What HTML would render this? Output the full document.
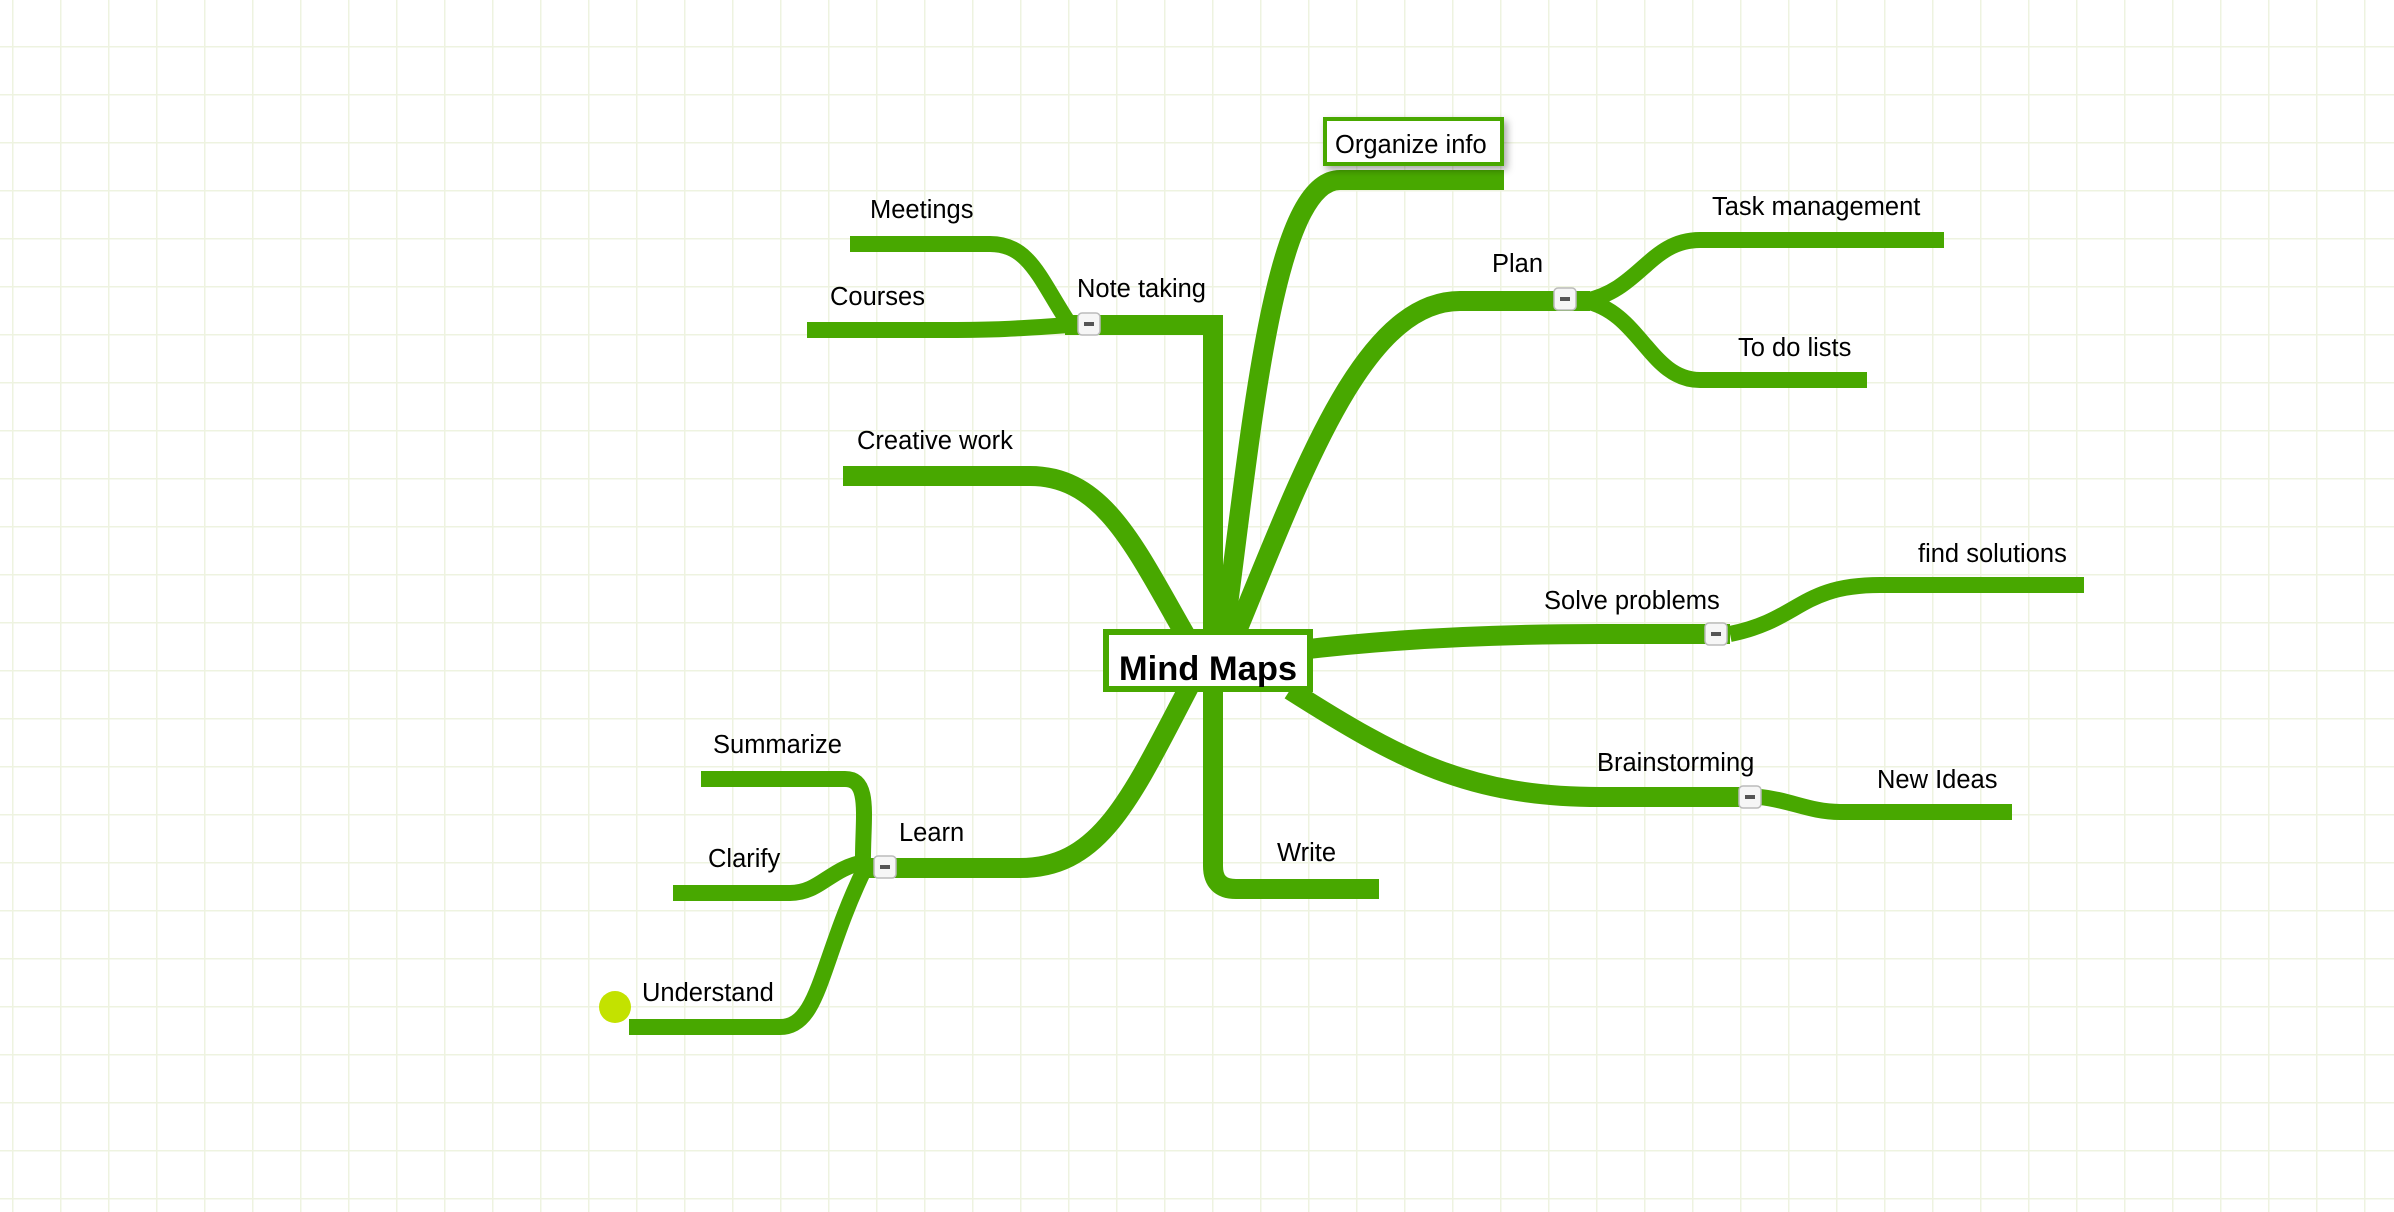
<!DOCTYPE html>
<html><head><meta charset="utf-8"><style>
html,body{margin:0;padding:0;background:#fff;}
svg{display:block;}
text{font-family:"Liberation Sans",Arial,sans-serif;font-size:25.5px;fill:#000;}
</style></head><body>
<svg width="2394" height="1212" viewBox="0 0 2394 1212">
<defs>
<pattern id="grid" x="12" y="46" width="48" height="48" patternUnits="userSpaceOnUse">
<path d="M0,0 V48 M0,0 H48" stroke="#eef3e0" stroke-width="3" fill="none"/>
</pattern>
<filter id="sh" x="-20%" y="-30%" width="140%" height="170%"><feDropShadow dx="3" dy="4" stdDeviation="4" flood-color="#000" flood-opacity="0.35"/></filter>
</defs>
<rect width="2394" height="1212" fill="url(#grid)"/>
<g fill="none" stroke="#48a800" stroke-linecap="butt" stroke-linejoin="miter">
<g stroke-width="20">
<path d="M1213,672 V325 H1065"/>
<path d="M1220,665 C1250,450 1270,180 1340,180 H1504"/>
<path d="M1225,660 C1300,480 1360,301 1460,301 H1590"/>
<path d="M1200,660 C1140,560 1110,476 1030,476 H843"/>
<path d="M1300,650 C1400,638 1500,634 1600,634 H1730"/>
<path d="M1290,690 C1400,760 1470,797 1600,797 H1760"/>
<path d="M1213,680 V866 Q1213,889 1236,889 H1379"/>
<path d="M1190,685 C1130,800 1100,868 1020,868 H863"/>
</g>
<g stroke-width="16">
<path d="M1070,325 C1040,280 1030,244 990,244 H850"/>
<path d="M1070,325 C1000,330 980,330 940,330 H807"/>
<path d="M1585,301 C1640,290 1650,240 1700,240 H1944"/>
<path d="M1585,301 C1640,312 1650,380 1700,380 H1867"/>
<path d="M1730,634 C1800,620 1800,585 1880,585 H2084"/>
<path d="M1760,797 C1790,800 1810,812 1840,812 H2012"/>
<path d="M863,868 C862,820 872,779 845,779 H701"/>
<path d="M865,862 C830,868 820,893 790,893 H673"/>
<path d="M865,868 C820,960 820,1027 780,1027 H629"/>
</g>
</g>
<circle cx="615" cy="1007" r="16" fill="#c3e200"/>
<g>
<g><rect x="1078" y="313" width="22" height="22" rx="4" fill="#f6f6f6" stroke="#bbb" stroke-width="1.5"/><rect x="1084" y="322" width="10" height="4" fill="#555"/></g>
<g><rect x="1554" y="288" width="22" height="22" rx="4" fill="#f6f6f6" stroke="#bbb" stroke-width="1.5"/><rect x="1560" y="297" width="10" height="4" fill="#555"/></g>
<g><rect x="1705" y="623" width="22" height="22" rx="4" fill="#f6f6f6" stroke="#bbb" stroke-width="1.5"/><rect x="1711" y="632" width="10" height="4" fill="#555"/></g>
<g><rect x="1739" y="786" width="22" height="22" rx="4" fill="#f6f6f6" stroke="#bbb" stroke-width="1.5"/><rect x="1745" y="795" width="10" height="4" fill="#555"/></g>
<g><rect x="874" y="856" width="22" height="22" rx="4" fill="#f6f6f6" stroke="#bbb" stroke-width="1.5"/><rect x="880" y="865" width="10" height="4" fill="#555"/></g>
</g>
<g>
<rect x="1106" y="632" width="204" height="57" fill="#fff" stroke="#48a800" stroke-width="6"/>
<text x="1208" y="680" text-anchor="middle" style="font-size:34.5px;font-weight:bold">Mind Maps</text>
</g>
<g>
<rect x="1325" y="119" width="177" height="45" fill="#fff" stroke="#48a800" stroke-width="4" filter="url(#sh)"/>
<text x="1335" y="153">Organize info</text>
</g>
<text x="870" y="218">Meetings</text>
<text x="830" y="305">Courses</text>
<text x="1077" y="297">Note taking</text>
<text x="1492" y="272">Plan</text>
<text x="1712" y="215">Task management</text>
<text x="1738" y="356">To do lists</text>
<text x="857" y="449">Creative work</text>
<text x="1918" y="562">find solutions</text>
<text x="1544" y="609">Solve problems</text>
<text x="1597" y="771">Brainstorming</text>
<text x="1877" y="788">New Ideas</text>
<text x="1277" y="861">Write</text>
<text x="713" y="753">Summarize</text>
<text x="899" y="841">Learn</text>
<text x="708" y="867">Clarify</text>
<text x="642" y="1001">Understand</text>
</svg>
</body></html>
